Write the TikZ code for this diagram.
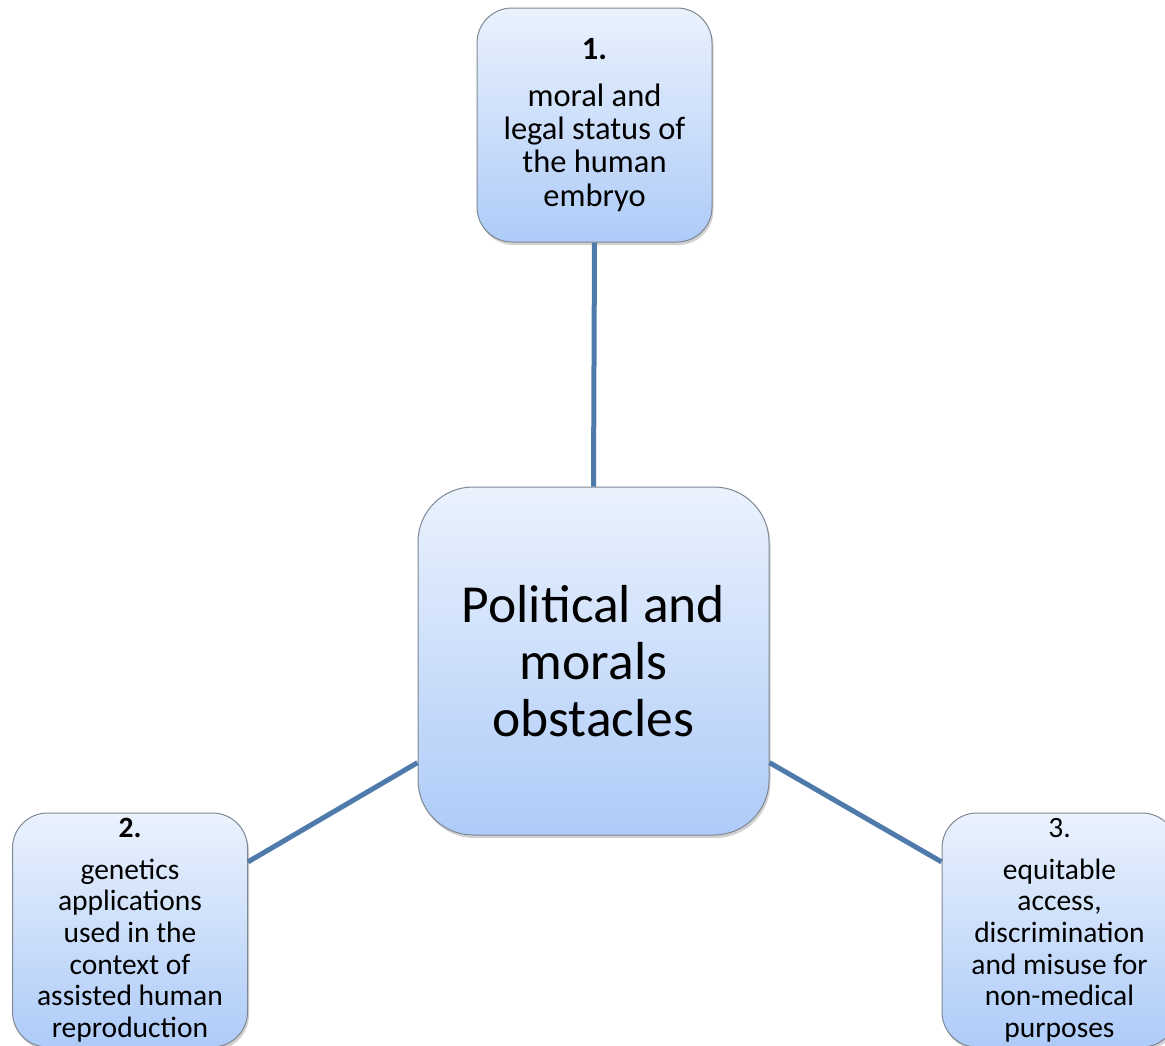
\documentclass[tikz,border=0pt]{standalone}
\usepackage{xcolor}
\usepackage{fontspec}
\setmainfont{Carlito}
\usetikzlibrary{shadows}
\definecolor{boxtop}{HTML}{EAF2FD}
\definecolor{boxbot}{HTML}{AECBF8}
\definecolor{boxline}{HTML}{7E8894}
\definecolor{linkblue}{HTML}{4F7BAC}
\tikzset{
    RA1/.style ={rectangle,rounded corners=35pt,minimum width = 235pt, minimum height = 234pt, draw=boxline, line width=1pt,
        top color=boxtop, bottom color=boxbot, inner sep=0pt, align=center,
        font=\fontsize{29.5}{31.6}\selectfont,
        drop shadow={shadow xshift=1.5pt,shadow yshift=-3pt,opacity=0.3,fill=black!60}},
    RA2/.style ={RA1, rounded corners=55pt, minimum width = 351pt, minimum height = 348pt,
        font=\fontsize{53.5}{57}\selectfont},
    LN/.style={draw=linkblue, line width=5pt}
}
\begin{document}
\begin{tikzpicture}[x=1pt,y=-1pt]
        \useasboundingbox (0,0) rectangle (1165,1045);
        \node[RA2] (mid) at (593.5,661) {Political and\\morals\\obstacles};
        \node[RA1,font=\fontsize{32.5}{33.3}\selectfont] (q1) at (594.5,125) {\textbf{1.}\\[13pt]moral and\\legal status of\\the human\\embryo};
        \node[RA1] (q2) at (130,930) {\textbf{2.}\\[10.5pt]genetics\\applications\\used in the\\context of\\assisted human\\reproduction};
        \node[RA1] (q3) at (1059.5,930) {3.\\[10.5pt]equitable\\access,\\discrimination\\and misuse for\\non-medical\\purposes};
        \draw[LN] (q1.south) -- (mid.north);
        \draw[LN] (mid.210) -- (q2.30);
        \draw[LN] (mid.330) -- (q3.150);
    \end{tikzpicture}
\end{document}
